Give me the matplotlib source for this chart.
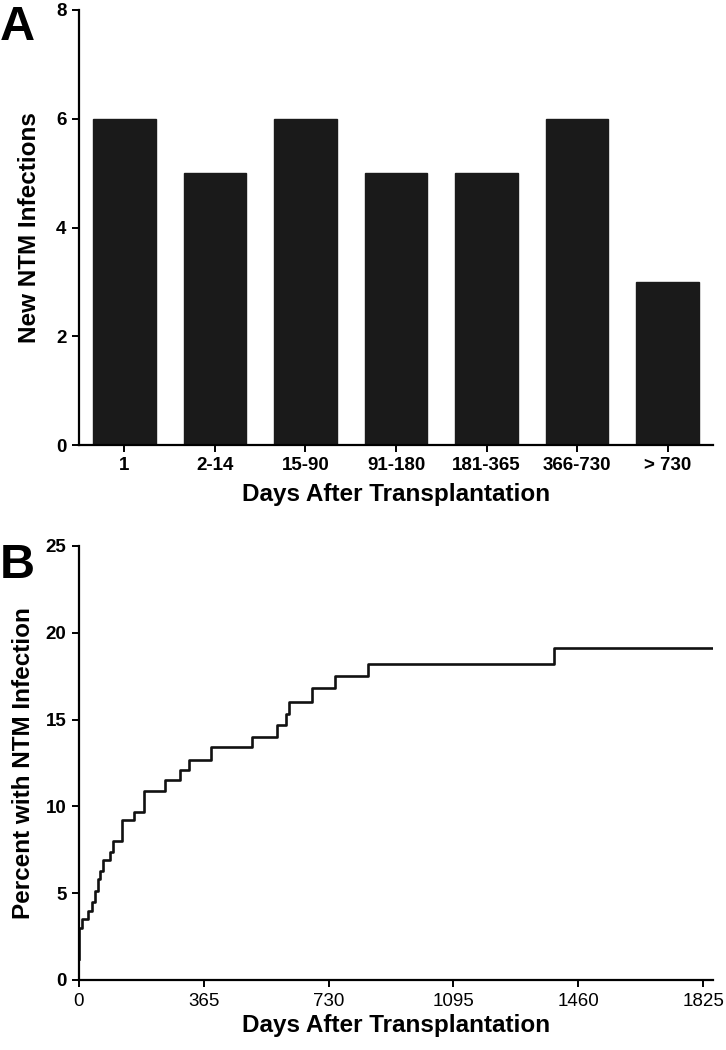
import matplotlib
matplotlib.use("Agg")
import matplotlib.pyplot as plt

plt.rcParams['font.family'] = ['Liberation Sans', 'DejaVu Sans']
plt.rcParams['font.weight'] = 'bold'

# Panel A data
categories = ["1", "2-14", "15-90", "91-180", "181-365", "366-730", "> 730"]
new_infections = [6, 5, 6, 5, 5, 6, 3]

# Panel B data (Kaplan-Meier style cumulative percent)
km_days = [0, 1, 10, 25, 38, 48, 55, 62, 70, 91, 100, 125, 160, 190, 252,
           295, 323, 387, 506, 580, 604, 613, 680, 749, 844, 1390, 1852]
km_pct = [1.2, 3.0, 3.5, 4.0, 4.5, 5.1, 5.8, 6.3, 6.9, 7.4, 8.0, 9.2, 9.7,
          10.9, 11.5, 12.1, 12.7, 13.4, 14.0, 14.7, 15.3, 16.0, 16.8, 17.5,
          18.2, 19.1, 19.1]
b_xticks = [0, 365, 730, 1095, 1460, 1825]
b_yticks = [0, 5, 10, 15, 20, 25]
a_yticks = [0, 2, 4, 6, 8]

fig = plt.figure(figsize=(7.26, 10.5), dpi=100)

W, H = 726, 1050
def rect(l, t, r, b):
    return [l / W, 1 - b / H, (r - l) / W, (b - t) / H]

axA = fig.add_axes(rect(79, 10, 713, 445))
axB = fig.add_axes(rect(79, 546, 713, 980))

for ax in (axA, axB):
    for s in ('top', 'right'):
        ax.spines[s].set_visible(False)
    for s in ('left', 'bottom'):
        ax.spines[s].set_linewidth(1.6)
    ax.tick_params(width=1.4, length=5, direction='out', pad=4)

TICK = 13.5
LAB = 17.5

# Panel A
x = list(range(len(categories)))
axA.bar(x, new_infections, width=0.69, color='#1a1a1a', edgecolor='#1a1a1a')
axA.set_xlim(-0.5, 6.5)
axA.set_ylim(0, 8)
axA.set_yticks(a_yticks)
axA.set_xticks(x)
axA.set_xticklabels(categories, fontweight='bold', fontsize=TICK)
axA.set_yticklabels([str(v) for v in a_yticks], fontweight='bold', fontsize=TICK)
axA.set_ylabel("New NTM Infections", fontsize=LAB, fontweight='bold', labelpad=11)
axA.set_xlabel("Days After Transplantation", fontsize=LAB, fontweight='bold', labelpad=6)

# Panel B
axB.step(km_days, km_pct, where='post', color='#111111', lw=1.9)
axB.set_xlim(0, 1854)
axB.set_ylim(0, 25)
axB.set_xticks(b_xticks)
axB.set_yticks(b_yticks)
axB.set_xticklabels([str(v) for v in b_xticks], fontweight='normal', fontsize=TICK)
axB.set_yticklabels([str(v) for v in b_yticks], fontweight='bold', fontsize=TICK)
axB.set_ylabel("Percent with NTM Infection", fontsize=LAB, fontweight='bold', labelpad=8)
axB.set_xlabel("Days After Transplantation", fontsize=LAB, fontweight='bold', labelpad=3)

fig.text(0 / W, 1 - 40 / H, "A", fontsize=35, fontweight='bold', ha='left', va='baseline')
fig.text(0 / W, 1 - 578 / H, "B", fontsize=35, fontweight='bold', ha='left', va='baseline')

fig.savefig("out.png", dpi=100)
